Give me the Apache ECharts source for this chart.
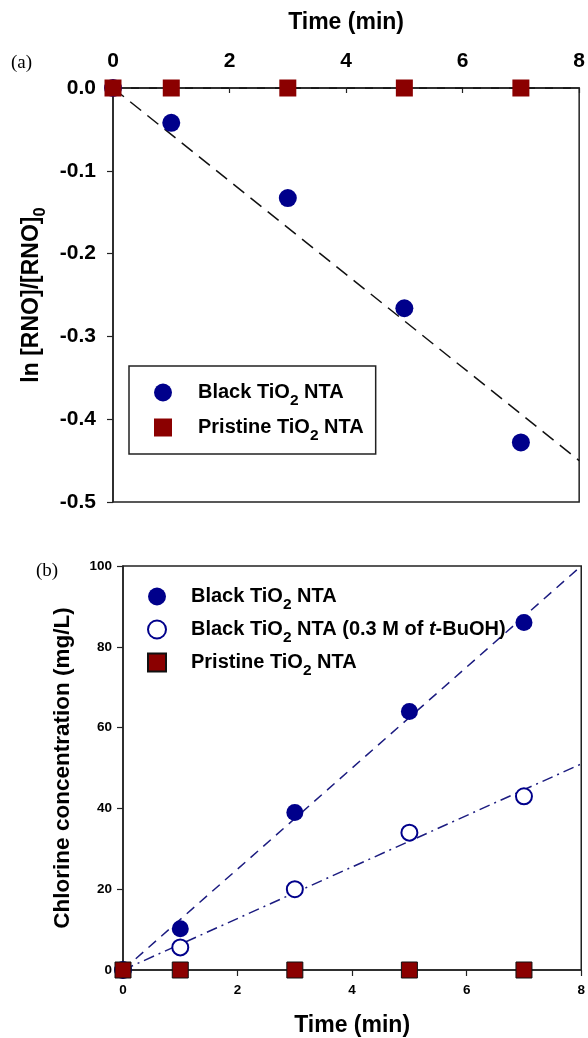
<!DOCTYPE html>
<html>
<head>
<meta charset="utf-8">
<script src="https://cdn.jsdelivr.net/npm/echarts@6/dist/echarts.min.js"></script>
<style>
html, body { margin: 0; padding: 0; background: #fff; }
#main { width: 588px; height: 1038px; }
</style>
</head>
<body>
<div id="main"></div>
<script>
// (a) RNO bleaching
var timeA = [0, 1, 3, 5, 7];
var blackA = [0, -0.042, -0.133, -0.266, -0.428];
var pristineA = [0, 0, 0, 0, 0];
var fitBlackA = [[0, 0], [8, -0.45]];
var fitPristineA = [[0, 0], [8, 0]];
var ticksA = [-0.5, -0.4, -0.3, -0.2, -0.1, 0.0];

// (b) chlorine evolution
var timeB = [0, 1, 3, 5, 7];
var blackB = [0, 10.2, 39, 64, 86];
var buohB = [0, 5.6, 20, 34, 43];
var pristineB = [0, 0, 0, 0, 0];
var fitBlackB = [[0, 0], [8, 100]];
var fitBuohB = [[0, 0], [8, 51]];

var legendNames = {
    'a-black': 'Black TiO{sub|2} NTA',
    'a-pristine': 'Pristine TiO{sub|2} NTA',
    'b-black': 'Black TiO{sub|2} NTA',
    'b-buoh': 'Black TiO{sub|2} NTA (0.3 M of {it|t}-BuOH)',
    'b-pristine': 'Pristine TiO{sub|2} NTA'
};

var FONT = 'Liberation Sans, Arial, sans-serif';
var NAVY = '#00008b';
var DARKRED = '#8b0000';

function pairs(xs, ys) {
    return xs.map(function (x, i) { return [x, ys[i]]; });
}

//rich text: subscript and italic
var rich = {
    sub: { fontFamily: FONT, fontWeight: 'bold', fontSize: 15.5, lineHeight: 15, padding: [17, 0, 0, 0], color: '#000' },
    it: { fontFamily: FONT, fontWeight: 'bold', fontStyle: 'italic', fontSize: 20, lineHeight: 22, color: '#000' }
};
var richName = {
    sub: { fontFamily: FONT, fontWeight: 'bold', fontSize: 16.5, lineHeight: 16, padding: [18, 0, 0, 0], color: '#000' }
};

function legendText(pad) {
    return {
        fontFamily: FONT, fontWeight: 'bold', fontSize: 20, lineHeight: 22, color: '#000',
        padding: [0, 0, 0, pad],
        rich: rich
    };
}

var axisStyle = { lineStyle: { color: '#222', width: 1.5 } };

var option = {
    animation: false,
    backgroundColor: '#fff',
    graphic: [
        { type: 'text', left: 11, top: 54, style: { text: '(a)', font: '19px "Liberation Serif", serif', fill: '#000' } },
        { type: 'text', left: 36, top: 562, style: { text: '(b)', font: '19px "Liberation Serif", serif', fill: '#000' } }
    ],
    grid: [
        { left: 113, right: 5, top: 88, bottom: 536, show: true, borderColor: '#222', borderWidth: 1.5 },
        { left: 123, right: 5, top: 566, bottom: 67, show: true, borderColor: '#222', borderWidth: 1.5 }
    ],
    legend: [
        {
            orient: 'vertical', left: 129, top: 366,
            data: ['a-black', 'a-pristine'],
            itemWidth: 18, itemHeight: 18, itemGap: 2,
            padding: [10, 12, 10, 25],
            borderColor: '#222', borderWidth: 1.5, backgroundColor: '#fff',
            selectedMode: false,
            formatter: function (name) { return legendNames[name]; },
            textStyle: legendText(21)
        },
        {
            orient: 'vertical', left: 147, top: 580,
            data: ['b-black', 'b-buoh', 'b-pristine'],
            itemWidth: 18, itemHeight: 18, itemGap: 0,
            padding: 0,
            selectedMode: false,
            formatter: function (name) { return legendNames[name]; },
            textStyle: legendText(20)
        }
    ],
    xAxis: [
        {
            gridIndex: 0, type: 'value', position: 'top', min: 0, max: 8, interval: 2,
            name: 'Time (min)', nameLocation: 'middle', nameGap: 54,
            nameTextStyle: { fontFamily: FONT, fontWeight: 'bold', fontSize: 23, color: '#000' },
            axisLine: { onZero: false, lineStyle: axisStyle.lineStyle },
            axisTick: { inside: true, length: 5, lineStyle: { color: '#222', width: 1.2 } },
            axisLabel: { margin: 16, fontFamily: FONT, fontWeight: 'bold', fontSize: 21, color: '#000' },
            splitLine: { show: false }
        },
        {
            gridIndex: 1, type: 'value', position: 'bottom', min: 0, max: 8, interval: 2,
            name: 'Time (min)', nameLocation: 'middle', nameGap: 44,
            nameTextStyle: { fontFamily: FONT, fontWeight: 'bold', fontSize: 23, color: '#000' },
            axisLine: { onZero: false, lineStyle: axisStyle.lineStyle },
            axisTick: { length: 6, lineStyle: { color: '#222', width: 1.2 } },
            axisLabel: { margin: 13, fontFamily: FONT, fontWeight: 'bold', fontSize: 13.5, color: '#000' },
            splitLine: { show: false }
        }
    ],
    yAxis: [
        {
            gridIndex: 0, type: 'value', min: ticksA[0], max: ticksA[ticksA.length - 1], interval: 0.1,
            name: 'ln [RNO]/[RNO]{sub|0}', nameLocation: 'middle', nameGap: 63, nameRotate: 90,
            nameTextStyle: { fontFamily: FONT, fontWeight: 'bold', fontSize: 23, lineHeight: 26, color: '#000', rich: richName },
            axisLine: { onZero: false, lineStyle: axisStyle.lineStyle },
            axisTick: { length: 6, lineStyle: { color: '#222', width: 1.2 } },
            axisLabel: {
                margin: 17, fontFamily: FONT, fontWeight: 'bold', fontSize: 21, color: '#000',
                formatter: function (v) { return Math.abs(v) < 1e-9 ? '0.0' : v.toFixed(1); }
            },
            splitLine: { show: false }
        },
        {
            gridIndex: 1, type: 'value', min: 0, max: 100, interval: 20,
            name: 'Chlorine concentration (mg/L)', nameLocation: 'middle', nameGap: 49, nameRotate: 90,
            nameTextStyle: { fontFamily: FONT, fontWeight: 'bold', fontSize: 22.5, lineHeight: 22, color: '#000' },
            axisLine: { onZero: false, lineStyle: axisStyle.lineStyle },
            axisTick: { length: 6, lineStyle: { color: '#222', width: 1.2 } },
            axisLabel: { margin: 11, fontFamily: FONT, fontWeight: 'bold', fontSize: 13.5, color: '#000' },
            splitLine: { show: false }
        }
    ],
    series: [
        {
            name: 'fitA', type: 'line', xAxisIndex: 0, yAxisIndex: 0, data: fitBlackA,
            symbol: 'none', z: 1, lineStyle: { color: '#111', width: 1.5, type: [14, 8] }
        },
        {
            name: 'fitA0', type: 'line', xAxisIndex: 0, yAxisIndex: 0, data: fitPristineA,
            symbol: 'none', z: 3, lineStyle: { color: '#111', width: 1.5, type: [8, 10] }
        },
        {
            name: 'a-black', type: 'scatter', xAxisIndex: 0, yAxisIndex: 0, data: pairs(timeA, blackA),
            symbol: 'circle', symbolSize: 18, clip: false, z: 4, itemStyle: { color: NAVY, opacity: 1 }
        },
        {
            name: 'a-pristine', type: 'scatter', xAxisIndex: 0, yAxisIndex: 0, data: pairs(timeA, pristineA),
            symbol: 'rect', symbolSize: 17, clip: false, z: 5, itemStyle: { color: DARKRED, opacity: 1 }
        },
        {
            name: 'fitB1', type: 'line', xAxisIndex: 1, yAxisIndex: 1, data: fitBlackB,
            symbol: 'none', z: 1, lineStyle: { color: '#1c1c80', width: 1.5, type: [10, 7] }
        },
        {
            name: 'fitB2', type: 'line', xAxisIndex: 1, yAxisIndex: 1, data: fitBuohB,
            symbol: 'none', z: 1, lineStyle: { color: '#1c1c80', width: 1.5, type: [11, 5, 2, 5] }
        },
        {
            name: 'b-black', type: 'scatter', xAxisIndex: 1, yAxisIndex: 1, data: pairs(timeB, blackB),
            symbol: 'circle', symbolSize: 17, clip: false, z: 4, itemStyle: { color: NAVY, opacity: 1 }
        },
        {
            name: 'b-buoh', type: 'scatter', xAxisIndex: 1, yAxisIndex: 1, data: pairs(timeB, buohB),
            symbol: 'circle', symbolSize: 16, clip: false, z: 4,
            itemStyle: { color: '#fff', borderColor: NAVY, borderWidth: 2, opacity: 1 }
        },
        {
            name: 'b-pristine', type: 'scatter', xAxisIndex: 1, yAxisIndex: 1, data: pairs(timeB, pristineB),
            symbol: 'rect', symbolSize: 16, clip: false, z: 5,
            itemStyle: { color: DARKRED, borderColor: '#111', borderWidth: 1, opacity: 1 }
        }
    ]
};

var Chart = echarts.init(document.getElementById('main'));
Chart.setOption(option);
</script>
</body>
</html>
